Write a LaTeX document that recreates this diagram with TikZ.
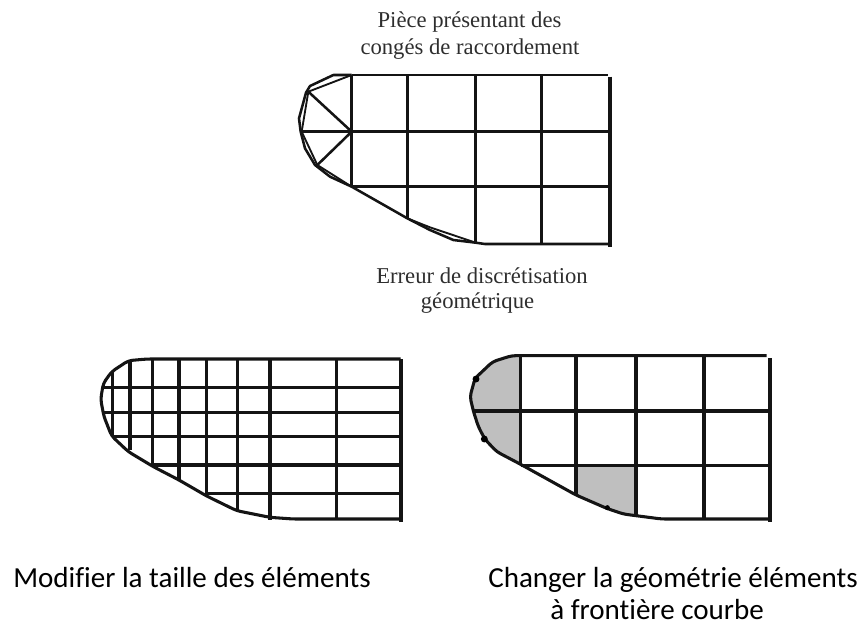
\documentclass[tikz,border=0pt]{standalone}
\usepackage{fontspec}
\setmainfont{Liberation Serif}
\newfontfamily\calibrifont[Ligatures=NoCommon]{Carlito}
\tikzset{
  mesh/.style={line width=2.3pt,color=black!92,line join=round},
  thinmesh/.style={line width=1.9pt,color=black!92,line join=round},
  serifcap/.style={inner sep=0pt,anchor=base,text=black!82,font=\fontsize{17}{20}\selectfont},
  sanscap/.style={inner sep=0pt,anchor=base west,text=black,font=\calibrifont\fontsize{21.8}{25}\selectfont},
  graycell/.style={fill=black!25,draw=none},
  blob/.style={fill=black,draw=none}
}
\begin{document}
\begin{tikzpicture}[x=0.75pt,y=-0.75pt]
\useasboundingbox (0,0) rectangle (862,626);
% top mesh
\begin{scope}[shift={(280,50)},x=0.25pt,y=-0.25pt,thinmesh]
\draw (215,75) -- (160,75) -- (90,108) -- (78,128) -- (57,205) -- (62,245) -- (75,295) -- (105,345) -- (150,380) -- (215,410) -- (382,505) -- (450,540) -- (520,570) -- (587,578) -- (615,582) -- (990,582);
\draw[line width=1.4pt] (215,75) -- (85,125) -- (65,245) -- (112,345) -- (215,410);
\draw[line width=1.4pt] (382,505) -- (450,532) -- (587,578);
\draw (85,125) -- (215,245) -- (112,345);
\draw (215,75) -- (985,75);
\draw (62,245) -- (990,245);
\draw (215,410) -- (990,410);
\draw (215,75) -- (215,410);
\draw (382,75) -- (382,505);
\draw (587,75) -- (587,578);
\draw (784,75) -- (784,582);
\draw[line width=2.4pt] (990,80) -- (990,590);
\end{scope}
% bottom left mesh
\begin{scope}[shift={(80,340)},x=0.25pt,y=-0.25pt,mesh]
\draw[rounded corners=3pt] (962,57) -- (200,57) -- (145,62) -- (95,95) -- (70,130) -- (62,178) -- (72,230) -- (95,288) -- (145,335) -- (220,380) -- (297,420) -- (380,468) -- (470,512) -- (570,532) -- (640,537) -- (962,537);
\draw (68,143) -- (962,143);
\draw (72,218) -- (962,218);
\draw (95,290) -- (962,290);
\draw (212,375) -- (962,375);
\draw (380,460) -- (962,460);
\draw (97,95) -- (97,288);
\draw (150,62) -- (150,330);
\draw (218,57) -- (218,378);
\draw (297,57) -- (297,420);
\draw (380,57) -- (380,468);
\draw (472,57) -- (472,512);
\draw (570,57) -- (570,540);
\draw (770,57) -- (770,537);
\draw[line width=2.8pt] (962,57) -- (962,545);
\end{scope}
% bottom right mesh
\begin{scope}[shift={(450,340)},x=0.25pt,y=-0.25pt,mesh]
\path[graycell] (212,47) -- (185,47) -- (128,65) -- (75,115) -- (60,170) -- (70,213) -- (85,260) -- (105,298) -- (140,335) -- (212,373) -- cycle;
\path[graycell] (378,376) -- (558,376) -- (558,527) -- (520,522) -- (470,505) -- (378,465) -- cycle;
\draw[rounded corners=3pt] (950,47) -- (185,47) -- (128,65) -- (75,115) -- (60,170) -- (70,213) -- (85,260) -- (105,298) -- (140,335) -- (212,373) -- (378,465) -- (470,505) -- (520,522) -- (558,527) -- (635,537) -- (960,537);
\draw (70,213) -- (960,213);
\draw (212,376) -- (960,376);
\draw[line width=2.7pt] (212,47) -- (212,373);
\draw (378,47) -- (378,465);
\draw (558,47) -- (558,527);
\draw (762,47) -- (762,537);
\draw[line width=2.7pt] (960,55) -- (960,545);
\path[blob] (78,117) circle (2.6pt);
\path[blob] (103,297) circle (2.6pt);
\path[blob] (472,503) circle (1.9pt);
\end{scope}
% captions
\node[serifcap] (t1) at (469.5,27) {Pièce présentant des};
\node[serifcap] (t2) at (470,54) {congés de raccordement};
\node[serifcap] (t3) at (482,283) {Erreur de discrétisation};
\node[serifcap] (t4) at (477.5,308) {géométrique};
\node[sanscap] (c1) at (13,587) {Modifier la taille des éléments};
\node[sanscap] (c2) at (488,587) {Changer la géométrie éléments};
\node[sanscap] (c3) at (550,619) {à frontière courbe};
\end{tikzpicture}
\end{document}
